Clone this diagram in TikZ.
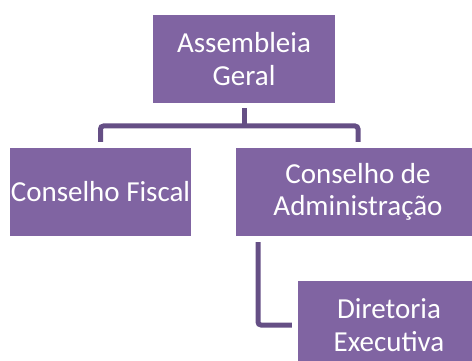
\documentclass[tikz,border=0pt]{standalone}
\usepackage{fontspec}
\setmainfont{Carlito}
\usetikzlibrary{calc}
\definecolor{boxfill}{HTML}{8064A2}
\definecolor{linecol}{HTML}{654F85}
\begin{document}
\begin{tikzpicture}[x=1pt,y=-1pt,
  orgbox/.style={rectangle, fill=boxfill, draw=none, text=white, align=center,
    inner sep=0pt, font=\fontsize{29}{32.5}\selectfont},
  conn/.style={draw=linecol, line width=5pt, rounded corners=3pt}]
\useasboundingbox (0,0) rectangle (472,361);
\begin{scope}
\clip (0,0) rectangle (472,361);
\node[orgbox, minimum width=182pt, minimum height=88pt] (ag) at (244,59) {Assembleia\\Geral};
\node[orgbox, minimum width=181pt, minimum height=88pt] (cf) at (100.5,192) {Conselho Fiscal};
\node[orgbox, minimum width=244pt, minimum height=88pt] (ca) at (358,192) {Conselho de\\Administração};
\node[orgbox, minimum width=182pt, minimum height=88pt] (de) at (389,325) {Diretoria\\Executiva};
\end{scope}
\coordinate (j) at (244,126);
\coordinate (k) at (258,325);
\draw[conn] ($(cf.north)+(0,-6)$) |- (j) -| ($(ca.north)+(0,-6)$);
\draw[conn] ($(ag.south)+(0,5)$) -- (j);
\draw[conn] ($(ca.south -| k)+(0,6)$) -- (k) -- ($(de.west)+(-6,0)$);
\end{tikzpicture}
\end{document}
